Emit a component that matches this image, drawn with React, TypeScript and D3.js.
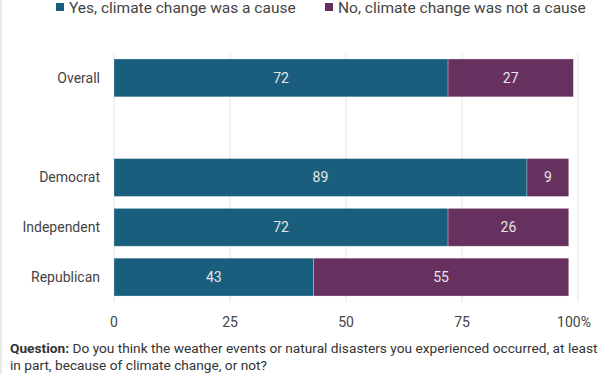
import { useEffect, useRef } from 'react';
import * as d3 from 'd3';

const categories = ['Overall', '', 'Democrat', 'Independent', 'Republican'];
const yesValues = [72, null, 89, 72, 43];
const noValues = [27, null, 9, 26, 55];
const xTicks = [0, 25, 50, 75, 100];
const seriesNames = ['Yes, climate change was a cause', 'No, climate change was not a cause'];
const colors = ['#1a5e7e', '#66305f'];

export default function App() {
  const svgRef = useRef<SVGSVGElement>(null);

  useEffect(() => {
    if (!svgRef.current) return;
    const svg = d3.select(svgRef.current);
    svg.selectAll('*').remove();

    const width = 612;
    const height = 374;
    const margin = { top: 53, left: 114, right: 34, bottom: 72 };

    const x = d3.scaleLinear().domain([0, 100]).range([margin.left, width - margin.right]);
    const y = d3.scaleBand()
      .domain(categories.map((c, i) => `${i}`))
      .range([margin.top, height - margin.bottom])
      .paddingInner(0.24)
      .paddingOuter(0.12);

    svg.append('line')
      .attr('x1', 1).attr('x2', 1).attr('y1', 0).attr('y2', height)
      .attr('stroke', '#e2e2e2').attr('stroke-width', 1.5);

    // grid
    svg.append('g').selectAll('line')
      .data(xTicks)
      .join('line')
      .attr('x1', d => x(d)).attr('x2', d => x(d))
      .attr('y1', margin.top).attr('y2', height - margin.bottom)
      .attr('stroke', '#e4e4e4').attr('stroke-width', 1);

    // tick labels
    svg.append('g').selectAll('text')
      .data(xTicks)
      .join('text')
      .attr('x', d => x(d) + (d === 100 ? -4 : 0))
      .attr('y', 327)
      .attr('text-anchor', 'middle')
      .attr('font-size', 14)
      .attr('fill', '#444')
      .text(d => (d === 100 ? '100%' : `${d}`));

    const rows = categories.map((c, i) => ({ c, i, yes: yesValues[i], no: noValues[i] }))
      .filter(r => r.yes !== null);

    const g = svg.append('g');
    rows.forEach(r => {
      const y0 = y(`${r.i}`)!;
      const bh = y.bandwidth();
      const segs = [
        { v0: 0, v1: r.yes as number, color: colors[0] },
        { v0: r.yes as number, v1: (r.yes as number) + (r.no as number), color: colors[1] },
      ];
      segs.forEach(s => {
        g.append('rect')
          .attr('x', x(s.v0)).attr('y', y0)
          .attr('width', x(s.v1) - x(s.v0)).attr('height', bh)
          .attr('fill', s.color)
          .attr('stroke', '#ffffff').attr('stroke-opacity', 0.35).attr('stroke-width', 0.8);
        g.append('text')
          .attr('x', (x(s.v0) + x(s.v1)) / 2)
          .attr('y', y0 + bh / 2)
          .attr('dy', '0.35em')
          .attr('text-anchor', 'middle')
          .attr('font-size', 14)
          .attr('fill', '#e6e6e6')
          .text(s.v1 - s.v0);
      });
      g.append('text')
        .attr('x', 100)
        .attr('y', y0 + bh / 2)
        .attr('dy', '0.35em')
        .attr('text-anchor', 'end')
        .attr('font-size', 14)
        .attr('fill', '#444')
        .text(r.c);
    });

    // legend
    const legendX = [56, 325];
    seriesNames.forEach((name, i) => {
      svg.append('rect')
        .attr('x', legendX[i]).attr('y', 3)
        .attr('width', 8).attr('height', 8)
        .attr('fill', colors[i]);
      svg.append('text')
        .attr('x', legendX[i] + 13).attr('y', 13)
        .attr('font-size', 15.5)
        .attr('fill', '#444')
        .text(name);
    });

    // footnote
    const note = svg.append('g').attr('font-size', 13.7).attr('fill', '#333');
    const t1 = note.append('text').attr('x', 10).attr('y', 353);
    t1.append('tspan').attr('font-weight', 'bold').text('Question:');
    t1.append('tspan').text(' Do you think the weather events or natural disasters you experienced occurred, at least');
    note.append('text').attr('x', 10).attr('y', 370)
      .text('in part, because of climate change, or not?');
  }, []);

  return (
    <svg
      ref={svgRef}
      width={612}
      height={374}
      style={{ position: 'absolute', top: 0, left: 0, fontFamily: 'Roboto, sans-serif', background: '#fff' }}
    />
  );
}
